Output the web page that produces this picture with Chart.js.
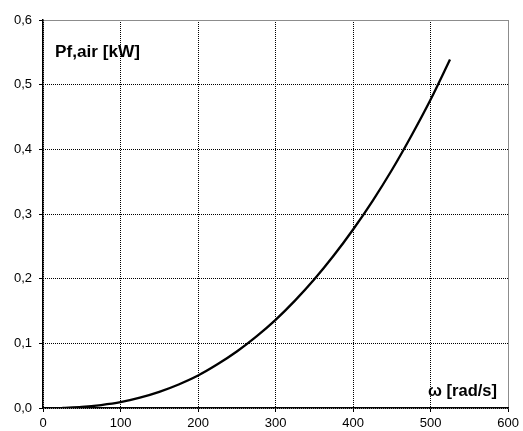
<!DOCTYPE html>
<html>
<head>
<meta charset="utf-8">
<script src="https://cdn.jsdelivr.net/npm/chart.js@4/dist/chart.umd.min.js"></script>
<style>
  html, body { margin: 0; padding: 0; background: #fff; }
  #wrap { width: 523px; height: 431px; position: relative; }
</style>
</head>
<body>
<div id="wrap"><canvas id="c" width="523" height="431"></canvas></div>
<script>
// Angular speed ω [rad/s]
const omega = [25, 50, 75, 100, 125, 150, 175, 200, 225, 250, 275, 300, 325, 350, 375, 400, 425, 450, 475, 500, 525];
// Air friction power loss Pf,air [kW]
const pAir = [0.0003, 0.0017, 0.0046, 0.0090, 0.0160, 0.0250, 0.0364, 0.0502, 0.0675, 0.0873, 0.1103, 0.1363, 0.1660, 0.1990, 0.2357, 0.2760, 0.3200, 0.3680, 0.4206, 0.4770, 0.5390];

const xTicks = [0, 100, 200, 300, 400, 500, 600];
const yTicks = [0, 0.1, 0.2, 0.3, 0.4, 0.5, 0.6];

const points = omega.map((w, i) => ({ x: w, y: pAir[i] }));

const FONT = '"Liberation Sans", Arial, sans-serif';

// Axis titles are placed inside the plotting area
const titlePlugin = {
  id: 'titles',
  afterDraw(chart) {
    const { ctx } = chart;
    ctx.save();
    ctx.fillStyle = '#000';
    ctx.font = 'bold 17.2px ' + FONT;
    ctx.textBaseline = 'alphabetic';
    ctx.textAlign = 'left';
    ctx.fillText('Pf,air [kW]', 55, 57);
    ctx.font = 'bold 16.5px ' + FONT;
    ctx.textAlign = 'right';
    ctx.fillText('ω [rad/s]', 497, 396);
    ctx.restore();
  }
};

// outermost grid line acts as the grey frame of the plot
const isLast = (ctx, last) => ctx.tick && Math.abs(ctx.tick.value - last) < 1e-9;
const gridColor = (last) => (ctx) => isLast(ctx, last) ? '#8c8c8c' : '#000';
const gridDash = (last) => (ctx) => isLast(ctx, last) ? [] : [1, 1];

new Chart(document.getElementById('c'), {
  type: 'line',
  data: {
    datasets: [{
      data: points,
      borderColor: '#000',
      borderWidth: 2.3,
      pointRadius: 0,
      fill: false,
      cubicInterpolationMode: 'monotone'
    }]
  },
  options: {
    responsive: false,
    animation: false,
    devicePixelRatio: 1,
    layout: { padding: { top: 20, right: 13, left: 0, bottom: 0 } },
    plugins: { legend: { display: false }, tooltip: { enabled: false } },
    scales: {
      x: {
        type: 'linear',
        min: 0, max: 600,
        afterBuildTicks(s) { s.ticks = xTicks.map(v => ({ value: v })); },
        afterFit(s) { s.height = 23; },
        grid: {
          color: gridColor(600), lineWidth: 1,
          drawTicks: true, tickLength: 4, tickColor: '#000', tickWidth: 1
        },
        border: { display: true, color: '#000', width: 1.5, dash: gridDash(600) },
        ticks: {
          color: '#000',
          padding: 4,
          maxRotation: 0,
          font: { family: FONT, size: 13 },
          callback: v => String(v)
        }
      },
      y: {
        type: 'linear',
        min: 0, max: 0.6,
        afterBuildTicks(s) { s.ticks = yTicks.map(v => ({ value: v })); },
        afterFit(s) { s.width = 43; },
        grid: {
          color: gridColor(0.6), lineWidth: 1,
          drawTicks: true, tickLength: 4, tickColor: '#000', tickWidth: 1
        },
        border: { display: true, color: '#000', width: 1.5, dash: gridDash(0.6), dashOffset: 0.5 },
        ticks: {
          color: '#000',
          padding: 7,
          font: { family: FONT, size: 13 },
          callback: v => Number(v).toFixed(1).replace('.', ',')
        }
      }
    }
  },
  plugins: [titlePlugin]
});
</script>
</body>
</html>
